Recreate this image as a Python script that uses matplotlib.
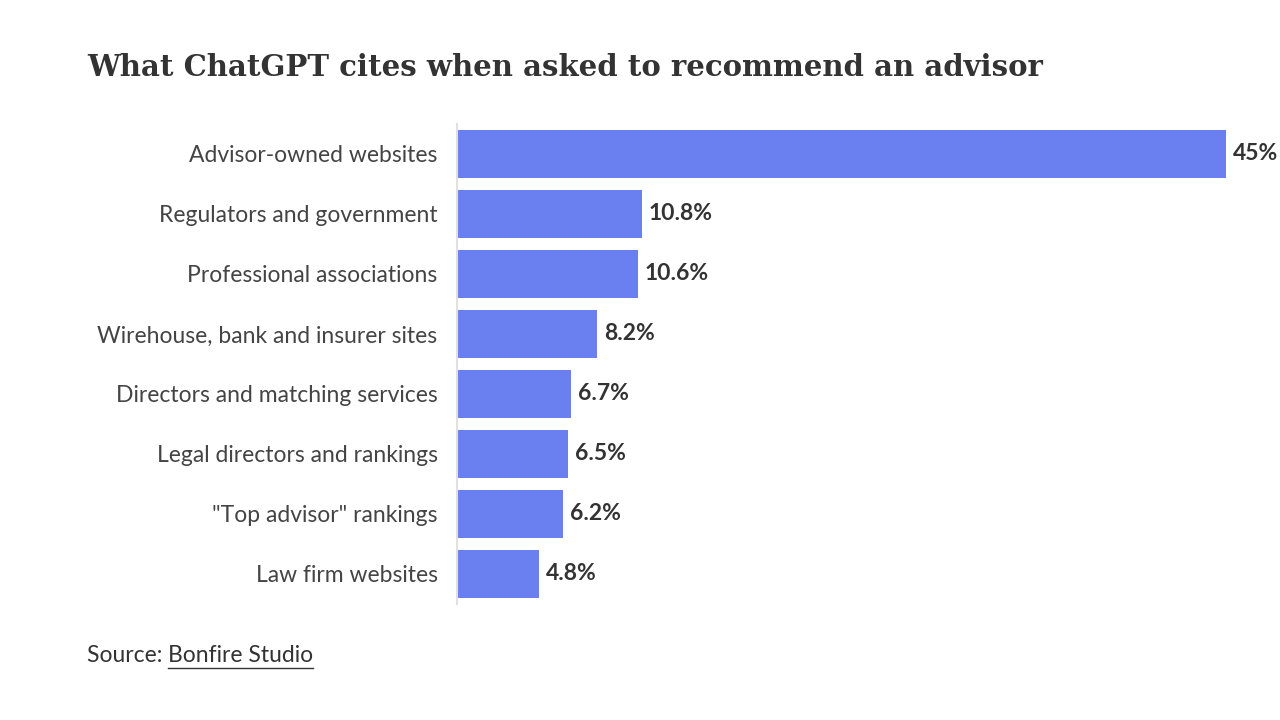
import matplotlib
matplotlib.use("Agg")
import matplotlib.pyplot as plt

# 카테고리별 인용 비율 (%)
DATA = [
    ("Advisor-owned websites", 45.0, "45%"),
    ("Regulators and government", 10.8, "10.8%"),
    ("Professional associations", 10.6, "10.6%"),
    ("Wirehouse, bank and insurer sites", 8.2, "8.2%"),
    ("Directors and matching services", 6.7, "6.7%"),
    ("Legal directors and rankings", 6.5, "6.5%"),
    ('"Top advisor" rankings', 6.2, "6.2%"),
    ("Law firm websites", 4.8, "4.8%"),
]

plt.rcParams["font.family"] = ["Lato", "DejaVu Sans"]

fig = plt.figure(figsize=(12.8, 7.2), dpi=100)
ax = fig.add_axes([457 / 1280, 1 - 604 / 720, (1226 - 457) / 1280, 480 / 720])

labels = [d[0] for d in DATA]
vals = [d[1] for d in DATA]
ys = list(range(len(DATA)))
ax.barh(ys, vals, height=0.8, color="#6b80f0", zorder=2)
for y, (lab, v, txt) in zip(ys, DATA):
    ax.text(v + 0.4, y, txt, va="center", ha="left", fontsize=16.5,
            fontweight="bold", color="#333333")

ax.set_xlim(0, 45)
ax.set_ylim(len(DATA) - 0.5, -0.5)
ax.set_yticks(ys)
ax.set_yticklabels(labels, fontsize=16.5, color="#444444")
ax.tick_params(axis="y", length=0, pad=14)
ax.set_xticks([])
for s in ["top", "right", "bottom"]:
    ax.spines[s].set_visible(False)
ax.spines["left"].set_color("#e0e0e0")
ax.spines["left"].set_linewidth(1.5)

fig.text(87 / 1280, 1 - 67 / 720, "What ChatGPT cites when asked to recommend an advisor",
         fontsize=21, fontweight="bold", family="DejaVu Serif", color="#333333",
         va="center", ha="left")
src = fig.text(87 / 1280, 1 - 656 / 720, "Source: ", fontsize=16.5, color="#333333",
               va="center", ha="left")
fig.canvas.draw()
bb = src.get_window_extent()
link = fig.text(bb.x1 / 1280, 1 - 656 / 720, "Bonfire Studio", fontsize=16.5,
                color="#333333", va="center", ha="left")
fig.canvas.draw()
lb = link.get_window_extent()
fig.add_artist(plt.Line2D([lb.x0 / 1280, lb.x1 / 1280], [(lb.y0 - 1) / 720] * 2,
                          color="#333333", lw=1))

fig.savefig("out.png", dpi=100)
plt.close(fig)
